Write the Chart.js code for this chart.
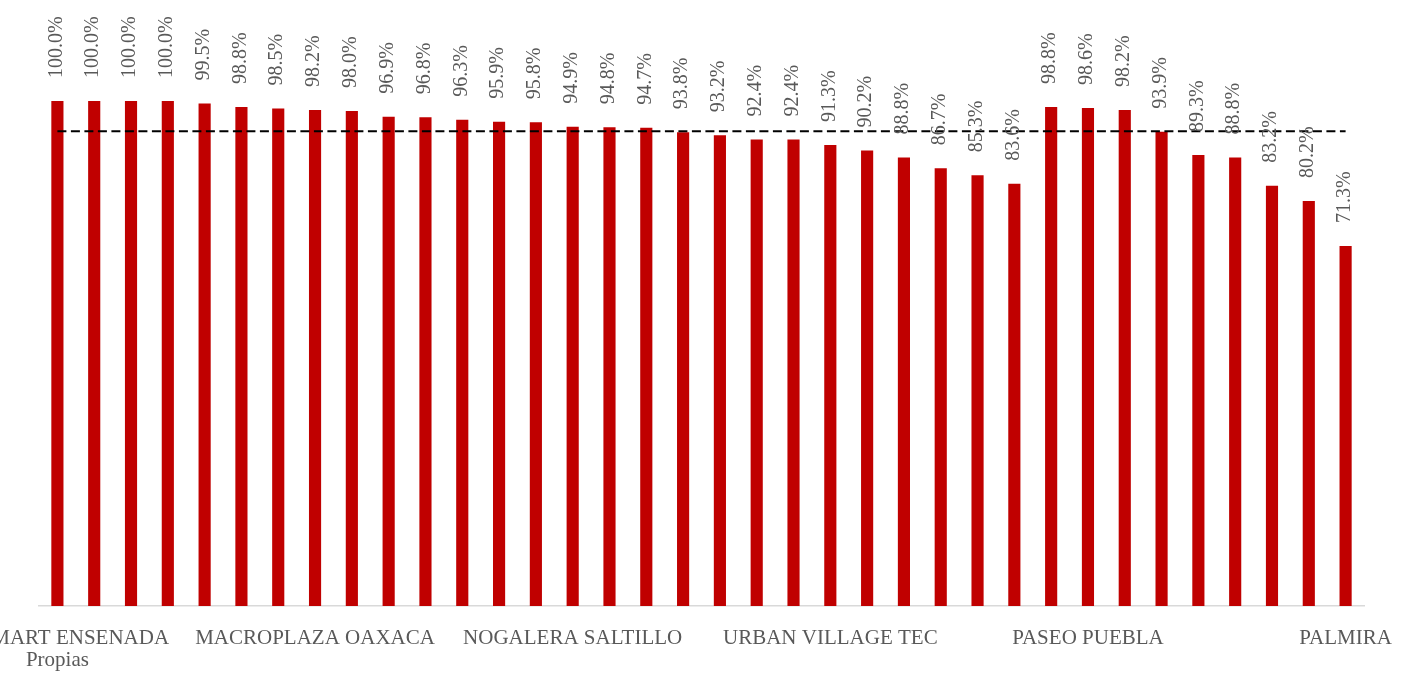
<!DOCTYPE html>
<html>
<head>
<meta charset="utf-8">
<title>Ocupación por centro comercial</title>
<script src="https://cdn.jsdelivr.net/npm/chart.js@4.4.1/dist/chart.umd.min.js"></script>
<style>
  body { margin: 0; background: #fff; }
  #wrap { width: 1408px; height: 673px; }
</style>
</head>
<body>
<div id="wrap"><canvas id="ocupacionChart"></canvas></div>
<script>
// Centros comerciales (solo se rotula uno de cada siete)
const centros = [
    ['WALMART ENSENADA', 'Propias'], '', '', '', '', '', '',
    'MACROPLAZA OAXACA', '', '', '', '', '', '',
    'NOGALERA SALTILLO', '', '', '', '', '', '',
    'URBAN VILLAGE TEC', '', '', '', '', '', '',
    'PASEO PUEBLA', '', '', '', '', '', '',
    'PALMIRA'
];

// Ocupación (%)
const ocupacion = [
    100.0, 100.0, 100.0, 100.0, 99.5, 98.8, 98.5, 98.2, 98.0, 96.9,
    96.8, 96.3, 95.9, 95.8, 94.9, 94.8, 94.7, 93.8, 93.2, 92.4,
    92.4, 91.3, 90.2, 88.8, 86.7, 85.3, 83.6,
    98.8, 98.6, 98.2, 93.9, 89.3, 88.8, 83.2, 80.2, 71.3
];

// Meta de ocupación (%)
const meta = 94;

const rojo = '#C00000';
const gris = '#595959';

// Etiquetas verticales con el valor encima de cada barra
const valueLabels = {
    id: 'valueLabels',
    afterDatasetsDraw(chart) {
        const bars = chart.getDatasetMeta(0).data;
        const ctx = chart.ctx;
        ctx.save();
        ctx.font = '20px "Liberation Serif", "Times New Roman", serif';
        ctx.fillStyle = gris;
        ctx.textAlign = 'left';
        ctx.textBaseline = 'middle';
        bars.forEach((bar, i) => {
            ctx.save();
            ctx.translate(bar.x - 1, bar.y - 23);
            ctx.rotate(-Math.PI / 2);
            ctx.fillText(ocupacion[i].toFixed(1) + '%', 0, 0);
            ctx.restore();
        });
        ctx.restore();
    }
};

new Chart(document.getElementById('ocupacionChart'), {
    type: 'bar',
    data: {
        labels: centros,
        datasets: [
            {
                label: 'Ocupación',
                data: ocupacion,
                backgroundColor: rojo,
                borderWidth: 0,
                barPercentage: 0.33,
                categoryPercentage: 1,
                order: 1
            },
            {
                type: 'line',
                label: 'Meta',
                data: centros.map(() => meta),
                borderColor: '#000',
                borderWidth: 2,
                borderDash: [9, 4.5],
                pointRadius: 0,
                fill: false,
                order: 0
            }
        ]
    },
    options: {
        responsive: true,
        maintainAspectRatio: false,
        animation: false,
        layout: {
            padding: { left: 39, right: 44, top: 101, bottom: 0 }
        },
        plugins: {
            legend: { display: false },
            tooltip: { enabled: false }
        },
        scales: {
            y: {
                display: false,
                min: 0,
                max: 100
            },
            x: {
                grid: { display: false, drawTicks: false },
                border: { display: true, color: '#d9d9d9', width: 1.5 },
                ticks: {
                    autoSkip: false,
                    maxRotation: 0,
                    minRotation: 0,
                    padding: 21,
                    color: gris,
                    font: { family: '"Liberation Serif", "Times New Roman", serif', size: 21, lineHeight: 1.05 }
                },
                // dejar que la primera y última etiqueta se salgan del lienzo
                afterFit(scale) {
                    scale.paddingLeft = 0;
                    scale.paddingRight = 0;
                    scale.height = 67;
                }
            }
        }
    },
    plugins: [valueLabels]
});
</script>
</body>
</html>
